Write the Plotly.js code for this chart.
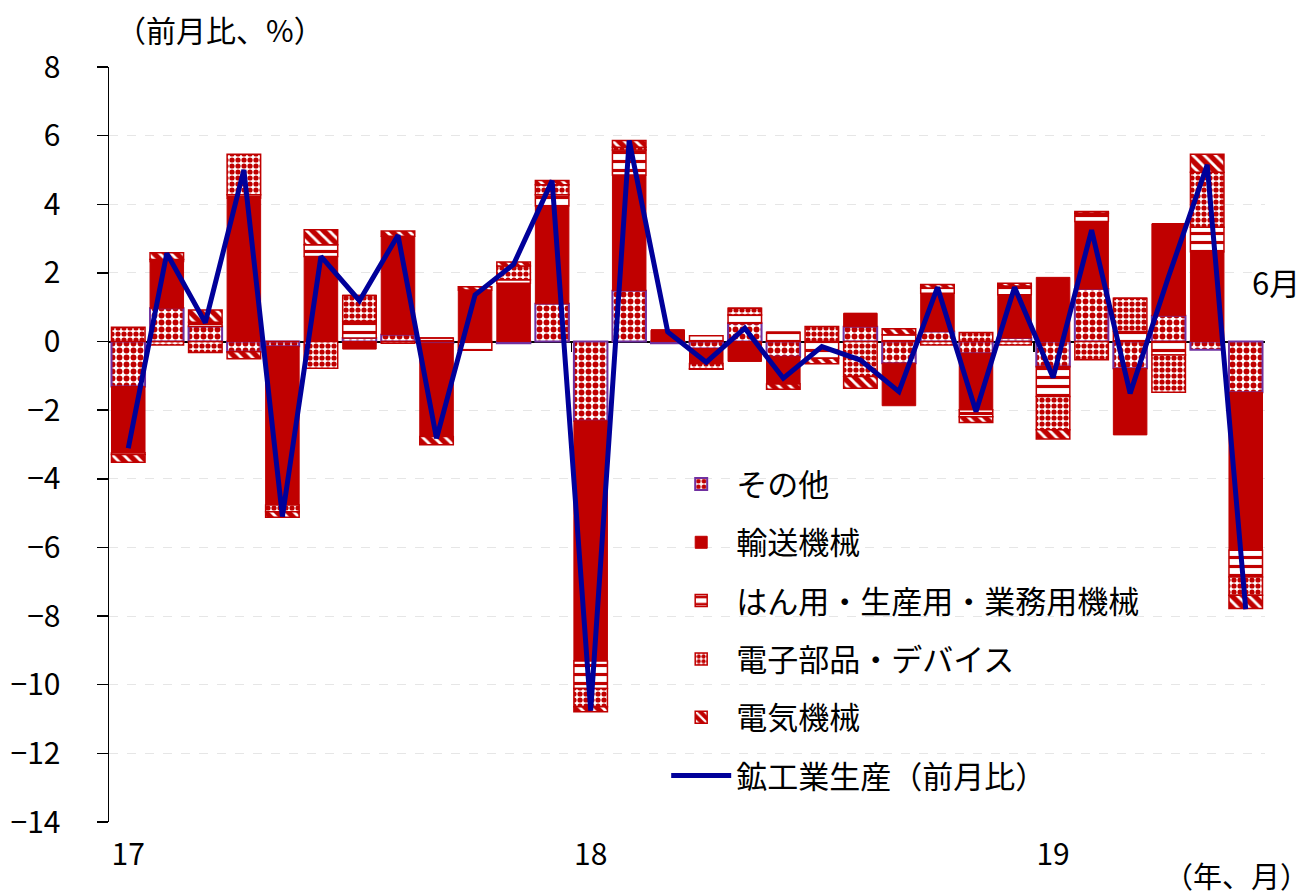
<!DOCTYPE html>
<html>
<head>
<meta charset="utf-8">
<script src="https://cdn.plot.ly/plotly-3.0.1.min.js"></script>
<style>
html,body{margin:0;padding:0;background:#fff;}
#chart{width:1315px;height:896px;}
</style>
</head>
<body>
<div id="chart"></div>
<script>
// months Jan 2017 .. Jun 2019
const months = ["17/1","17/2","17/3","17/4","17/5","17/6","17/7","17/8","17/9","17/10","17/11","17/12",
                "18/1","18/2","18/3","18/4","18/5","18/6","18/7","18/8","18/9","18/10","18/11","18/12",
                "19/1","19/2","19/3","19/4","19/5","19/6"];
const yearTickText = ["17","18","19"];

const names = ["その他","輸送機械","はん用・生産用・業務用機械","電子部品・デバイス","電気機械"];
const lineName = "鉱工業生産（前月比）";

const other     = [-1.31, 0.97, 0.44,-0.30,-0.14, 0.00, 0.10, 0.20,-0.05, 0.00,-0.05, 1.10,-2.31, 1.48,-0.05,-0.20, 0.53,-0.44, 0.00, 0.43,-0.63, 0.29,-0.34, 0.10,-0.73, 1.53,-0.78, 0.75,-0.24,-1.48];
const transport = [-1.93, 1.36, 0.00, 4.18,-4.62, 2.48,-0.22, 2.87,-2.72, 1.50, 1.70, 2.86,-7.00, 3.37, 0.33,-0.44,-0.58,-0.80,-0.00, 0.39,-1.24, 1.12,-1.65, 1.26, 1.87, 1.97,-1.94, 2.68, 2.62,-4.60];
const general   = [-0.05, 0.06, 0.12, 0.10, 0.00, 0.34, 0.49, 0.00, 0.10,-0.25, 0.10, 0.32,-0.80, 0.73, 0.00, 0.17, 0.24, 0.27,-0.49, 0.00, 0.20, 0.15,-0.20, 0.26,-0.87, 0.24, 0.29,-0.39, 0.71,-0.78];
const devices   = [ 0.42,-0.10,-0.32, 1.18,-0.20,-0.78, 0.75,-0.05, 0.00, 0.00, 0.40, 0.29,-0.53, 0.08, 0.00,-0.15, 0.20, 0.00, 0.44,-1.02, 0.00,-0.10, 0.26,-0.10,-0.97,-0.53, 0.97,-1.09, 1.60,-0.53];
const electric  = [-0.23, 0.20, 0.36,-0.20,-0.16, 0.44, 0.00, 0.15,-0.24, 0.10, 0.12, 0.12,-0.15, 0.20, 0.00,-0.02, 0.00,-0.15,-0.16,-0.34, 0.17, 0.10,-0.17, 0.08,-0.27, 0.05, 0.00, 0.00, 0.53,-0.39];
const production= [-3.11, 2.57, 0.55, 5.00,-5.10, 2.48, 1.19, 3.10,-2.82, 1.36, 2.25, 4.69,-10.75, 5.86, 0.28,-0.60, 0.39,-1.07,-0.15,-0.54,-1.46, 1.58,-2.04, 1.58,-1.05, 3.25,-1.51, 1.90, 5.15,-7.80];

const yRange = [-14, 8];
const RED = "#C00000", PURPLE = "#7030A0", NAVY = "#00009A";
const NUM_FONT = "'Noto Sans CJK JP', sans-serif";
const JP_FONT = "'Noto Sans CJK JP', sans-serif";

const x = months.map((m, i) => i);
const tickVals = months.map((m, i) => m.endsWith("/1") ? i : null).filter(v => v !== null);
const boundaryVals = tickVals.slice(1).map(v => v - 0.5);

const seriesData = [other, transport, general, devices, electric];
const styles = [
  {color:"#fff", line:{color:PURPLE, width:2}, pattern:{shape:".", fgcolor:RED, bgcolor:"#fff", size:7, solidity:0.55, fillmode:"replace"}},
  {color:RED, line:{color:RED, width:1}},
  {color:"#fff", line:{color:RED, width:1.5}, pattern:{shape:"-", fgcolor:RED, bgcolor:"#fff", size:9, solidity:0.35, fillmode:"replace"}},
  {color:"#fff", line:{color:RED, width:1.5}, pattern:{shape:".", fgcolor:RED, bgcolor:"#fff", size:6, solidity:0.6, fillmode:"replace"}},
  {color:RED, line:{color:RED, width:1.5}, pattern:{shape:"\\", fgcolor:"#fff", bgcolor:RED, size:8, solidity:0.35, fillmode:"replace"}}
];

const traces = seriesData.map((vals, k) => ({
  type: "bar",
  name: names[k],
  x: x,
  y: vals,
  width: 0.87,
  marker: styles[k],
  legendgroup: "g" + k,
  hoverinfo: "skip"
}));

traces.push({
  type: "scatter",
  mode: "lines",
  name: lineName,
  x: x,
  y: production,
  line: {color: NAVY, width: 5},
  legendgroup: "gl",
  hoverinfo: "skip"
});

// invisible helper trace on the year-boundary tick axis
traces.push({type:"scatter", x:[x[0]], y:[0], xaxis:"x2", mode:"markers", marker:{opacity:0}, showlegend:false, hoverinfo:"skip"});

const layout = {
  width: 1315,
  height: 896,
  margin: {l: 109, r: 50, t: 67, b: 74},
  paper_bgcolor: "#fff",
  plot_bgcolor: "#fff",
  barmode: "relative",
  font: {family: JP_FONT, size: 27, color: "#000"},
  showlegend: true,
  legend: {
    x: 0.482, y: 0.483, xanchor: "left", yanchor: "top",
    traceorder: "grouped",
    tracegroupgap: 15,
    bgcolor: "rgba(0,0,0,0)",
    font: {family: JP_FONT, size: 31, color: "#000"},
    itemwidth: 60
  },
  xaxis: {
    range: [-0.5, x.length - 0.5],
    tickvals: tickVals,
    ticktext: yearTickText,
    ticks: "",
    showline: false,
    showgrid: false,
    zeroline: false,
    tickfont: {family: NUM_FONT, size: 30},
    ticklabelstandoff: 12
  },
  xaxis2: {
    overlaying: "x",
    anchor: "free",
    position: (0 - yRange[0]) / (yRange[1] - yRange[0]),
    side: "bottom",
    range: [-0.5, x.length - 0.5],
    tickvals: boundaryVals,
    ticks: "outside",
    ticklen: 9,
    tickwidth: 1.5,
    tickcolor: "#000",
    showticklabels: false,
    showline: false,
    showgrid: false,
    zeroline: false
  },
  yaxis: {
    range: yRange,
    dtick: 2,
    tick0: 0,
    showline: true,
    linecolor: "#000",
    linewidth: 1.5,
    ticks: "outside",
    ticklen: 11,
    tickwidth: 1.5,
    tickcolor: "#000",
    showgrid: true,
    gridcolor: "#e6e6e6",
    griddash: "dash",
    gridwidth: 1,
    zeroline: true,
    zerolinecolor: "#000",
    zerolinewidth: 2,
    tickfont: {family: NUM_FONT, size: 30},
    ticklabelstandoff: 30
  },
  annotations: [
    {text: "（前月比、%）", xref: "paper", yref: "paper", x: 0.004, y: 1.05, xanchor: "left", yanchor: "middle", showarrow: false, font: {family: JP_FONT, size: 30}},
    {text: "6月", xref: "paper", yref: "paper", x: 0.987, y: 0.716, xanchor: "left", yanchor: "middle", showarrow: false, font: {family: JP_FONT, size: 31}},
    {text: "（年、月）", xref: "paper", yref: "paper", x: 1.04, y: -0.07, xanchor: "right", yanchor: "middle", showarrow: false, font: {family: JP_FONT, size: 29}},
    {text: "（資料）経済産業省「鉱工業指数」、内閣府「景気動向指数」", xref: "paper", yref: "paper", x: -0.015, y: -0.12, xanchor: "left", yanchor: "top", showarrow: false, font: {family: JP_FONT, size: 26}}
  ]
};

Plotly.newPlot("chart", traces, layout, {displayModeBar: false, staticPlot: true});
</script>
</body>
</html>
